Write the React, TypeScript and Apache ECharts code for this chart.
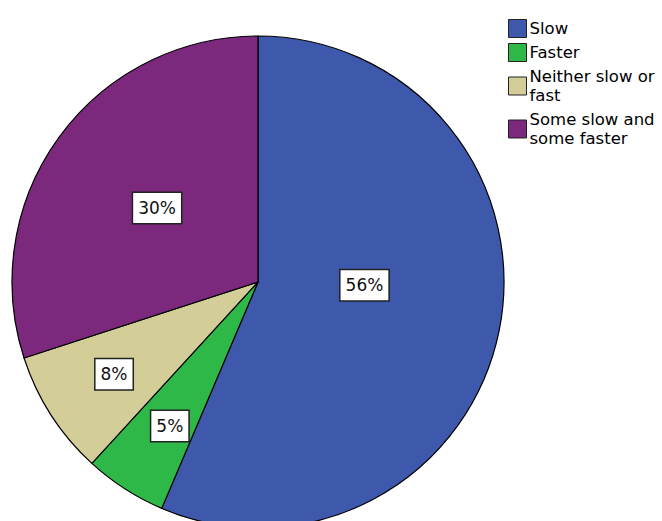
import React, { useEffect, useRef } from "react";
import * as echarts from "echarts";

const categories = ["Slow", "Faster", "Neither slow or\nfast", "Some slow and\nsome faster"];
const values = [56.4, 5.4, 8.2, 30.0];
const colors = ["#3E58AC", "#2EB848", "#D3CE97", "#7C287D"];
const labelOffsets = [[-17, -22], [-20, 38], [-38, 24], [1, 0]];

const FONT = "DejaVu Sans";

export default function App() {
  const ref = useRef<HTMLDivElement>(null);
  useEffect(() => {
    document.body.style.margin = "0";
    const chart = echarts.init(ref.current!, null, { renderer: "svg" });
    chart.setOption({
      animation: false,
      backgroundColor: "#ffffff",
      legend: {
        orient: "vertical",
        left: 503,
        top: 14,
        itemWidth: 18,
        itemHeight: 18,
        itemGap: 5,
        icon: "rect",
        selectedMode: false,
        itemStyle: { borderColor: "#222", borderWidth: 1 },
        textStyle: { fontFamily: FONT, fontSize: 16.5, color: "#000", lineHeight: 19, padding: [0, 0, 0, -2] },
        data: categories,
      },
      series: [
        {
          type: "pie",
          center: [258, 282],
          radius: [0, 246],
          startAngle: 90,
          clockwise: true,
          silent: true,
          itemStyle: { borderColor: "#000", borderWidth: 1.2 },
          labelLine: { show: false },
          data: categories.map((name, i) => ({
            name,
            value: values[i],
            itemStyle: { color: colors[i] },
            label: { offset: labelOffsets[i] },
          })),
          label: {
            show: true,
            position: "inside",
            formatter: (p: any) => Math.round(p.percent) + "%",
            fontFamily: FONT,
            fontSize: 17,
            lineHeight: 19,
            color: "#111",
            backgroundColor: "#ffffff",
            borderColor: "#222",
            borderWidth: 1.5,
            padding: [6, 5, 5, 5],
          },
        },
      ],
    });
    return () => chart.dispose();
  }, []);
  return <div ref={ref} style={{ width: 662, height: 521 }} />;
}
